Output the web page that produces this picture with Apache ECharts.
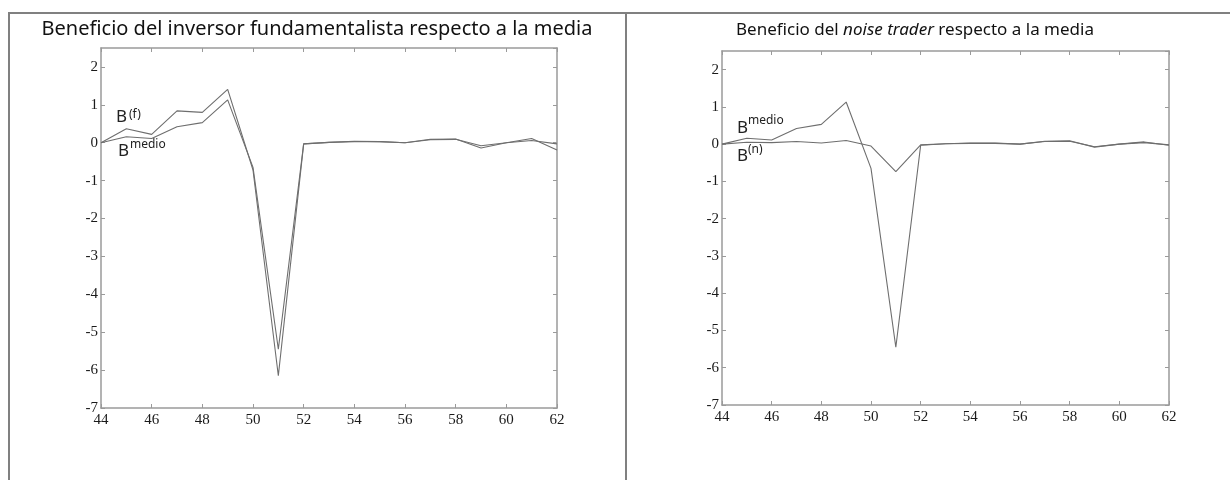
<!DOCTYPE html>
<html>
<head>
<meta charset="utf-8">
<script src="https://cdn.jsdelivr.net/npm/echarts@6/dist/echarts.min.js"></script>
<style>
  html, body { margin: 0; padding: 0; background: #fff; }
  #chart { width: 1230px; height: 480px; }
</style>
</head>
<body>
<div id="chart"></div>
<script>
// periodos (eje x)
var periods = [44, 45, 46, 47, 48, 49, 50, 51, 52, 53, 54, 55, 56, 57, 58, 59, 60, 61, 62];
// beneficio del inversor fundamentalista
var bFund = [0, 0.37, 0.22, 0.84, 0.80, 1.41, -0.72, -6.15, -0.03, 0.01, 0.04, 0.03, 0, 0.09, 0.10, -0.14, 0, 0.11, -0.19];
// beneficio medio
var bMedio = [0, 0.16, 0.11, 0.42, 0.53, 1.13, -0.65, -5.45, -0.03, 0.01, 0.03, 0.03, 0, 0.08, 0.09, -0.08, 0, 0.06, -0.03];
// beneficio del noise trader
var bNoise = [0, 0.05, 0.04, 0.07, 0.03, 0.10, -0.05, -0.74, -0.02, 0.01, 0.02, 0.02, 0, 0.07, 0.08, -0.07, 0, 0.04, -0.02];
var xTicks = [44, 46, 48, 50, 52, 54, 56, 58, 60, 62];
var yTicks = [-7, -6, -5, -4, -3, -2, -1, 0, 1, 2];

var axisGray = '#9a9a9a';
var lineGray = '#6e6e6e';
var serif = '"Liberation Serif", "DejaVu Serif", serif';
var sans = '"Noto Sans", "Open Sans", sans-serif';

function pairs(ys) {
  return periods.map(function (x, i) { return [x, ys[i]]; });
}

function xAx(g, pos, labels) {
  return {
    gridIndex: g, type: 'value', position: pos,
    min: xTicks[0], max: xTicks[xTicks.length - 1], interval: 2,
    axisLine: { onZero: false, lineStyle: { color: axisGray, width: 1.5 } },
    axisTick: { inside: true, length: 4, lineStyle: { color: axisGray } },
    axisLabel: { show: labels, fontFamily: serif, fontSize: 15, color: '#1a1a1a', margin: 5 },
    splitLine: { show: false }
  };
}

function yAx(g, pos, labels) {
  return {
    gridIndex: g, type: 'value', position: pos,
    min: yTicks[0], max: 2.5, interval: 1,
    axisLine: { onZero: false, lineStyle: { color: axisGray, width: 1.5 } },
    axisTick: { inside: true, length: 4, lineStyle: { color: axisGray } },
    axisLabel: {
      show: labels, fontFamily: serif, fontSize: 15, color: '#1a1a1a', margin: 3,
      showMaxLabel: false,
      formatter: function (v) { return yTicks.indexOf(v) >= 0 ? String(v) : ''; }
    },
    splitLine: { show: false }
  };
}

function serie(name, ys, xi, yi) {
  return {
    name: name, type: 'line', data: pairs(ys),
    xAxisIndex: xi, yAxisIndex: yi,
    symbol: 'none', animation: false,
    lineStyle: { color: lineGray, width: 1.1 }
  };
}

function label(x, y, sup, supX, supY) {
  return [
    { type: 'text', left: x, top: y - 10,
      style: { text: 'B', font: '17px ' + sans, fill: '#222' } },
    { type: 'text', left: supX, top: supY - 7,
      style: { text: sup, font: '12px ' + sans, fill: '#222' } }
  ];
}

var chart = echarts.init(document.getElementById('chart'));
chart.setOption({
  animation: false,
  grid: [
    { left: 101, top: 48, width: 456, height: 360 },
    { left: 722, top: 51, width: 447, height: 354 }
  ],
  xAxis: [xAx(0, 'bottom', true), xAx(0, 'top', false), xAx(1, 'bottom', true), xAx(1, 'top', false)],
  yAxis: [yAx(0, 'left', true), yAx(0, 'right', false), yAx(1, 'left', true), yAx(1, 'right', false)],
  series: [
    serie('B(f)', bFund, 0, 0),
    serie('Bmedio', bMedio, 0, 0),
    serie('Bmedio', bMedio, 2, 2),
    serie('B(n)', bNoise, 2, 2)
  ],
  graphic: [
    // marco de los paneles
    { type: 'polyline', shape: { points: [[9, 480], [9, 13], [1230, 13]] },
      style: { stroke: '#808080', lineWidth: 2, fill: null } },
    { type: 'line', shape: { x1: 626, y1: 13, x2: 626, y2: 480 },
      style: { stroke: '#808080', lineWidth: 2 } },
    // títulos
    { type: 'text', x: 317, y: 29,
      style: { text: 'Beneficio del inversor fundamentalista respecto a la media',
        font: '20px ' + sans, fill: '#111', align: 'center', verticalAlign: 'middle' } },
    { type: 'text', x: 915, y: 30,
      style: {
        text: '{n|Beneficio del }{i|noise trader}{n| respecto a la media}',
        align: 'center', verticalAlign: 'middle',
        rich: {
          n: { fontFamily: sans, fontSize: 17, fill: '#111' },
          i: { fontFamily: sans, fontSize: 17, fontStyle: 'italic', fill: '#111' }
        }
      } }
  ]
    .concat(label(116, 119, '(f)', 129, 116))
    .concat(label(118, 153, 'medio', 130, 146))
    .concat(label(737, 130, 'medio', 748, 122))
    .concat(label(737, 158, '(n)', 748, 151))
});
</script>
</body>
</html>
